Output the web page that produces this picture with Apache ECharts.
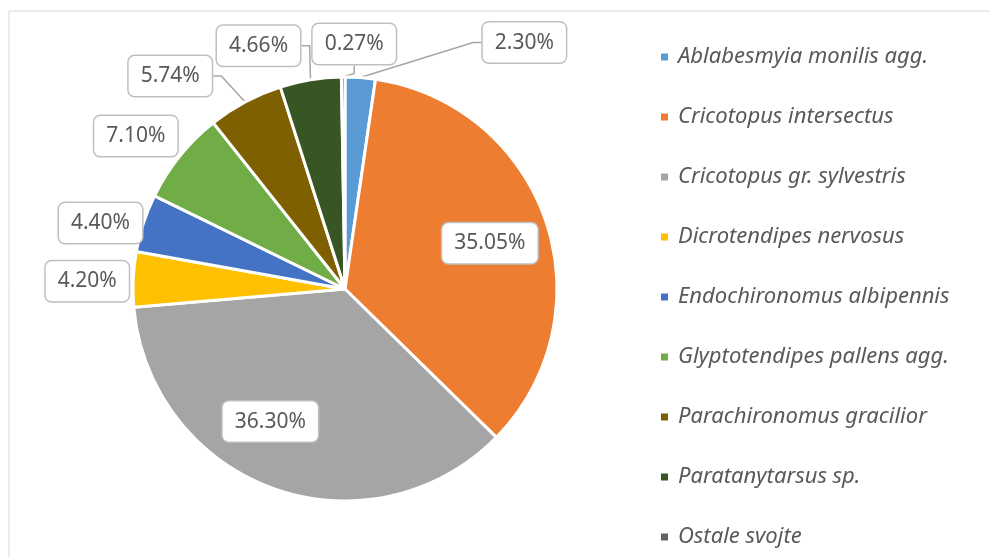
<!DOCTYPE html>
<html>
<head>
<meta charset="utf-8">
<script src="https://cdn.jsdelivr.net/npm/echarts@6/dist/echarts.min.js"></script>
<style>
  html, body { margin: 0; padding: 0; background: #fff; }
  #chart-container { width: 990px; height: 557px; }
</style>
</head>
<body>
<div id="chart-container"></div>
<script>
// data
const species = [
  'Ablabesmyia monilis agg.',
  'Cricotopus intersectus',
  'Cricotopus gr. sylvestris',
  'Dicrotendipes nervosus',
  'Endochironomus albipennis',
  'Glyptotendipes pallens agg.',
  'Parachironomus gracilior',
  'Paratanytarsus sp.',
  'Ostale svojte'
];
const shares = [2.30, 35.05, 36.30, 4.20, 4.40, 7.10, 5.74, 4.66, 0.27];

// styling
const colors = ['#5B9BD5', '#ED7D31', '#A5A5A5', '#FFC000', '#4472C4', '#70AD47', '#7F6000', '#375623', '#636363'];
const CX = 345, CY = 289, R = 212;
// label centre offset from the middle of each slice's rim (Excel "best fit" look)
const labelNudge = [[164, -35], [-56, 22], [-3, -67], [-46, 2], [-43, 0], [-44, -20], [-75, -26], [-52, -34], [11, -33]];
const showLine = [true, false, false, false, false, false, true, true, true];
const lineLen = [0, 10, 10, 10, 10, 10, 4, 10, 10];

const total = shares.reduce((a, b) => a + b, 0);
const midAngle = [];
let acc = 0;
for (let i = 0; i < shares.length; i++) {
  midAngle.push((acc + shares[i] / 2) / total * 2 * Math.PI);
  acc += shares[i];
}

var chartDom = document.getElementById('chart-container');
var myChart = echarts.init(chartDom);
var option;

option = {
  color: colors,
  animation: false,
  graphic: [{
    type: 'rect',
    shape: { x: 9, y: 11, width: 1200, height: 800 },
    style: { fill: 'none', stroke: '#d9d9d9', lineWidth: 1 },
    silent: true
  }],
  legend: {
    orient: 'vertical',
    left: 654,
    top: 40,
    itemWidth: 9,
    itemHeight: 9,
    itemGap: 36,
    icon: 'rect',
    data: species,
    textStyle: {
      fontFamily: 'Noto Sans',
      fontStyle: 'italic',
      fontSize: 22,
      lineHeight: 24,
      color: '#595959',
      padding: [0, 0, 0, 4]
    }
  },
  series: [
    {
      type: 'pie',
      center: [CX, CY],
      radius: R,
      startAngle: 90,
      clockwise: true,
      avoidLabelOverlap: false,
      itemStyle: { borderColor: '#fff', borderWidth: 3 },
      label: {
        show: true,
        position: 'outside',
        formatter: (p) => p.value.toFixed(2) + '%',
        fontFamily: 'Noto Sans',
        fontSize: 21,
        lineHeight: 24,
        color: '#595959',
        backgroundColor: '#fff',
        borderColor: '#bfbfbf',
        borderWidth: 1.5,
        borderRadius: 6,
        padding: [8, 12]
      },
      labelLine: {
        show: true,
        length: 10,
        length2: 8,
        lineStyle: { color: '#a6a6a6', width: 1.5 }
      },
      labelLayout: function (params) {
        const i = params.dataIndex;
        const a = midAngle[i];
        return {
          x: CX + R * Math.sin(a) + labelNudge[i][0],
          y: CY - R * Math.cos(a) + labelNudge[i][1],
          align: 'center',
          verticalAlign: 'middle'
        };
      },
      emphasis: { disabled: true },
      data: species.map((name, i) => ({
        name: name,
        value: shares[i],
        labelLine: { show: showLine[i], length: lineLen[i] }
      }))
    }
  ]
};

option && myChart.setOption(option);
</script>
</body>
</html>
